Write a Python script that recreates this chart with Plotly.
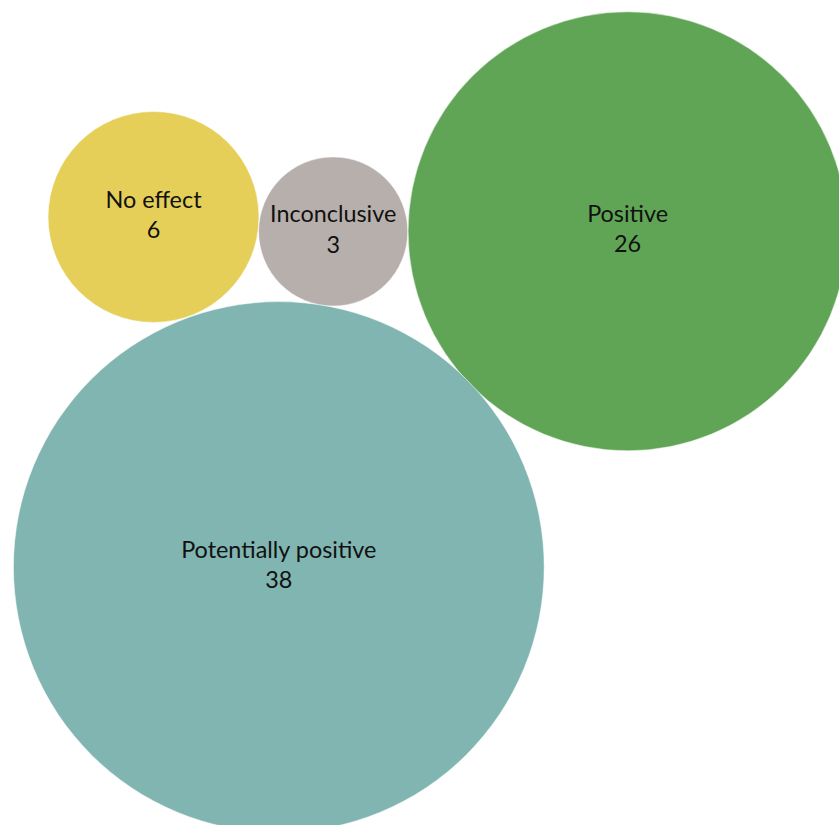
import math
import plotly.graph_objects as go

# ---- data ----
categories = ["No effect", "Inconclusive", "Positive", "Potentially positive"]
counts = [6, 3, 26, 38]

# ---- layout / style (packing positions in plot units, origin top-left) ----
centers_x = [153.5, 333.2, 627.6, 278.8]
centers_y = [217.0, 231.5, 231.3, 567.0]
colors = ["#E5CF59", "#B7AFAC", "#5FA555", "#80B5B1"]
SCALE = 43.05  # px radius per sqrt(count)

W, H = 839, 825
sizes = [2 * SCALE * math.sqrt(v) for v in counts]
labels = [f"{c}<br>{v}" for c, v in zip(categories, counts)]

fig = go.Figure(
    go.Scatter(
        x=centers_x,
        y=centers_y,
        mode="markers+text",
        text=labels,
        textposition="middle center",
        textfont=dict(family="Lato, 'Noto Sans', sans-serif", size=23.4, color="#111111"),
        marker=dict(size=sizes, sizemode="diameter", color=colors,
                    opacity=1, line=dict(width=0.5, color="white")),
        hoverinfo="text",
        showlegend=False,
    )
)

fig.update_layout(
    width=W,
    height=H,
    margin=dict(l=0, r=0, t=0, b=0),
    paper_bgcolor="white",
    plot_bgcolor="white",
    xaxis=dict(range=[0, W], visible=False, fixedrange=True),
    yaxis=dict(range=[H, 0], visible=False, fixedrange=True),
)

fig.write_html("out.html")
